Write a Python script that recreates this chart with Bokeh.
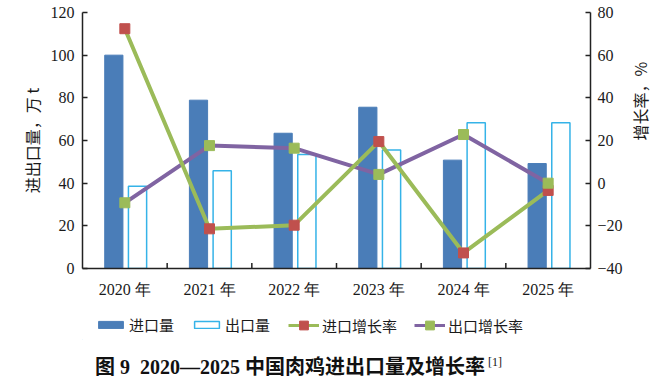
import math
from bokeh.plotting import figure
from bokeh.models import (FactorRange, Range1d, LinearAxis, Legend, LegendItem,
                          FixedTicker, Div)
from bokeh.layouts import column
from bokeh.transform import dodge
from bokeh.embed import file_html
from bokeh.resources import INLINE

years = ["2020 年", "2021 年", "2022 年", "2023 年", "2024 年", "2025 年"]
import_vol = [100.0, 78.9, 63.4, 75.6, 50.8, 49.2]
export_vol = [38.6, 45.8, 53.4, 55.6, 68.3, 68.3]
import_rate = [72.4, -21.4, -19.7, 19.5, -32.7, -3.4]
export_rate = [-9.2, 17.6, 16.4, 4.1, 22.8, 0.0]

left_ticks = [0, 20, 40, 60, 80, 100, 120]
right_ticks = [-40, -20, 0, 20, 40, 60, 80]
legend_labels = ["进口量", "出口量", "进口增长率", "出口增长率"]

SERIF = "Liberation Serif"
CJK = "Noto Sans CJK SC"
TXT = "#1a1a1a"
AXIS = "#222222"

BLUE = "#4a7db8"
CYAN = "#35b3e8"
RED = "#c0504d"
GREEN = "#9bbb59"
PURPLE = "#8064a2"

p = figure(x_range=FactorRange(*years), y_range=Range1d(0, 120),
           frame_width=508, frame_height=256,
           min_border_left=82, min_border_right=69, min_border_top=12,
           min_border_bottom=40,
           output_backend="svg", toolbar_location=None)
p.extra_y_ranges = {"rate": Range1d(-40, 80)}

p.outline_line_color = None
p.xgrid.grid_line_color = None
p.ygrid.grid_line_color = None

data = dict(year=years, imp=import_vol, exp=export_vol,
            ir=import_rate, er=export_rate)

p.vbar(x=dodge("year", -0.13, range=p.x_range), top="imp", width=0.215,
       source=data, fill_color=BLUE, line_color=BLUE)
p.vbar(x=dodge("year", 0.15, range=p.x_range), top="exp", width=0.215,
       source=data, fill_color="white", line_color=CYAN, line_width=1.5)

# category-boundary tick marks on the x axis (pointing inward)
p.segment(x0=dodge("year", 0.5, range=p.x_range),
          x1=dodge("year", 0.5, range=p.x_range),
          y0=0, y1=2.6, source=dict(year=years[:-1]),
          line_color=AXIS, line_width=1.5)

p.line(x="year", y="er", source=data, y_range_name="rate",
       line_color=PURPLE, line_width=4)
p.line(x="year", y="ir", source=data, y_range_name="rate",
       line_color=GREEN, line_width=4)
p.scatter(x="year", y="ir", source=data, y_range_name="rate",
          marker="square", size=10, fill_color=RED, line_color=RED)
p.scatter(x="year", y="er", source=data, y_range_name="rate",
          marker="square", size=10, fill_color=GREEN, line_color=GREEN)

def style_axis(ax):
    ax.axis_line_color = AXIS
    ax.axis_line_width = 1.5
    ax.major_tick_line_color = AXIS
    ax.major_tick_line_width = 1.5
    ax.major_tick_in = 5
    ax.major_tick_out = 0
    ax.minor_tick_line_color = None
    ax.major_label_text_color = TXT
    ax.major_label_text_font = SERIF
    ax.major_label_text_font_size = "16px"
    ax.axis_label_text_font = CJK
    ax.axis_label_text_font_style = "normal"
    ax.axis_label_text_font_size = "16px"
    ax.axis_label_text_color = TXT

style_axis(p.xaxis[0])
style_axis(p.yaxis[0])
p.xaxis.major_tick_line_color = None
p.xaxis.major_label_standoff = 12
p.xaxis.separator_line_color = None

p.yaxis[0].ticker = FixedTicker(ticks=left_ticks)
p.yaxis[0].major_label_standoff = 8
p.yaxis[0].axis_label = "进出口量，万 t"
p.yaxis[0].axis_label_standoff = 4

ra = LinearAxis(y_range_name="rate", ticker=FixedTicker(ticks=right_ticks))
style_axis(ra)
ra.major_label_standoff = 7
ra.axis_label = "增长率，%"
ra.axis_label_standoff = 14
ra.axis_label_orientation = math.pi / 2
p.add_layout(ra, "right")

# legend strip: an axis-less figure whose swatch glyphs sit outside its ranges
lg = figure(width=659, height=32, x_range=Range1d(0, 1), y_range=Range1d(0, 1),
            min_border=0, x_axis_location=None, y_axis_location=None,
            output_backend="svg", toolbar_location=None)
lg.outline_line_color = None
lg.xgrid.grid_line_color = None
lg.ygrid.grid_line_color = None
swatch = dict(x=[-5], y=[-5])
g1 = lg.vbar(x="x", top="y", width=0.1, source=swatch,
             fill_color=BLUE, line_color=BLUE)
g2 = lg.vbar(x="x", top="y", width=0.1, source=swatch,
             fill_color="white", line_color=CYAN, line_width=1.5)
g3l = lg.line(x="x", y="y", source=swatch, line_color=GREEN, line_width=3)
g3m = lg.scatter(x="x", y="y", source=swatch, marker="square", size=9,
                 fill_color=RED, line_color=RED)
g4l = lg.line(x="x", y="y", source=swatch, line_color=PURPLE, line_width=3)
g4m = lg.scatter(x="x", y="y", source=swatch, marker="square", size=9,
                 fill_color=GREEN, line_color=GREEN)

common = dict(orientation="horizontal", border_line_color=None,
              background_fill_alpha=0, glyph_width=31, label_standoff=3,
              spacing=17, padding=0, margin=0, label_text_font=CJK,
              label_text_font_size="15px", label_text_color=TXT)

legend_bars = Legend(items=[
    LegendItem(label=legend_labels[0], renderers=[g1]),
    LegendItem(label=legend_labels[1], renderers=[g2]),
], location=(13, 5), glyph_height=9, **common)
legend_lines = Legend(items=[
    LegendItem(label=legend_labels[2], renderers=[g3l, g3m]),
    LegendItem(label=legend_labels[3], renderers=[g4l, g4m]),
], location=(206, 4), glyph_height=22, **common)
lg.add_layout(legend_bars)
lg.add_layout(legend_lines)

title = Div(
    text=('<div style="padding-top:8px;white-space:nowrap;">'
          '<span style="font-family:\'Liberation Serif\',\'Noto Sans CJK SC\';'
          'font-weight:bold;font-size:20px;color:#111;">'
          '图 9&nbsp; 2020—2025 中国肉鸡进出口量及增长率</span>'
          '<span style="font-family:\'Liberation Serif\';font-size:12px;'
          'vertical-align:8px;color:#111;">&nbsp;[1]</span></div>'),
    width=600, height=44, styles={"margin-left": "95px"})

layout = column(p, lg, title, spacing=0)
open("out.html", "w").write(file_html(layout, INLINE))
